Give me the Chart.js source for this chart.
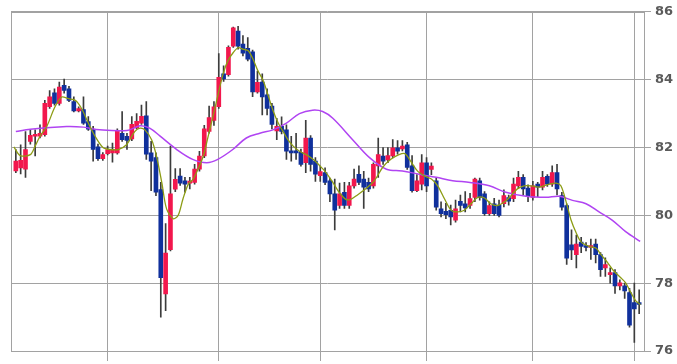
<!DOCTYPE html>
<html>
<head>
<meta charset="utf-8">
<script src="https://cdn.jsdelivr.net/npm/chart.js@4.4.1/dist/chart.umd.min.js"></script>
<style>
    html, body { margin: 0; padding: 0; background: #ffffff; }
</style>
</head>
<body>
<canvas id="priceChart" width="677" height="364"></canvas>
<script>
const upColor = '#f2174d';
const downColor = '#10309c';
const wickColor = '#3c3c3c';
const gridColor = '#a2a2a2';

// daily candles, left to right
const opens = [
    81.31, 81.40, 81.36, 82.18, 82.33, 82.33, 82.38, 83.20, 83.61, 83.30,
    83.83, 83.73, 83.35, 83.08, 83.12, 82.76, 82.52, 82.02, 81.67, 81.82,
    81.84, 81.84, 82.42, 82.33, 82.25, 82.58, 82.72, 82.93, 81.84, 81.70,
    80.76, 77.68, 78.99, 80.77, 81.16, 81.02, 80.95, 80.97, 81.36, 81.75,
    82.47, 82.80, 83.20, 84.17, 84.15, 84.99, 85.43, 85.05, 84.92, 84.82,
    83.64, 83.93, 83.55, 83.22, 82.49, 82.62, 82.52, 81.90, 81.88, 81.86,
    81.55, 82.28, 81.60, 81.17, 81.26, 81.02, 80.63, 80.29, 80.68, 80.29,
    80.87, 81.21, 81.07, 80.97, 80.87, 81.46, 81.75, 81.63, 81.75, 81.99,
    81.96, 82.08, 81.46, 80.73, 80.92, 81.55, 81.35, 81.02, 80.19, 80.12,
    80.15, 79.86, 80.41, 80.34, 80.29, 80.53, 81.02, 80.63, 80.05, 80.34,
    80.30, 80.34, 80.52, 80.49, 80.87, 81.12, 80.80, 80.53, 80.92, 80.83,
    81.15, 80.92, 81.26, 80.58, 80.29, 79.13, 78.84, 79.21, 79.10, 79.05,
    79.15, 78.84, 78.45, 78.25, 78.31, 77.92, 77.92, 77.72, 77.43, 77.43
];
const highs = [
    81.94, 82.08, 82.47, 82.52, 82.52, 82.67, 83.39, 83.68, 83.73, 83.93,
    84.02, 83.80, 83.49, 83.20, 83.49, 82.91, 82.62, 82.10, 81.85, 82.04,
    82.13, 82.55, 83.06, 82.42, 82.91, 83.00, 83.25, 83.35, 82.18, 81.84,
    80.97, 79.76, 82.04, 81.38, 81.38, 81.12, 81.12, 81.50, 81.89, 82.65,
    83.22, 83.35, 84.77, 84.41, 85.00, 85.55, 85.57, 85.30, 85.24, 84.87,
    84.25, 84.17, 83.73, 83.30, 82.86, 82.90, 82.67, 82.33, 82.42, 81.95,
    82.80, 82.35, 81.70, 81.45, 81.40, 81.10, 81.07, 80.95, 80.97, 80.97,
    81.36, 81.46, 81.30, 81.10, 81.55, 82.28, 82.00, 82.00, 82.23, 82.20,
    82.20, 82.15, 81.76, 81.20, 81.79, 81.70, 81.55, 81.10, 80.40, 80.35,
    80.30, 80.45, 80.60, 80.70, 80.65, 81.10, 81.10, 80.70, 80.40, 80.50,
    80.45, 80.75, 80.60, 81.10, 81.30, 81.20, 80.90, 81.00, 80.97, 81.30,
    81.20, 81.46, 81.50, 80.68, 80.34, 79.57, 79.42, 79.35, 79.20, 79.30,
    79.30, 78.90, 78.75, 78.45, 78.40, 78.10, 78.00, 77.85, 78.00, 77.80
];
const lows = [
    81.26, 81.22, 81.12, 82.10, 81.75, 82.28, 82.33, 83.15, 83.25, 83.25,
    83.60, 83.35, 83.05, 83.05, 82.68, 82.50, 81.60, 81.62, 81.62, 81.78,
    81.57, 81.80, 82.18, 81.94, 82.20, 82.55, 82.68, 81.65, 80.73, 80.58,
    77.00, 77.19, 78.95, 80.70, 80.88, 80.68, 80.78, 80.92, 81.30, 81.70,
    82.42, 82.65, 83.15, 83.95, 84.10, 84.95, 84.90, 84.70, 84.55, 83.50,
    83.60, 82.96, 82.96, 82.55, 82.23, 82.40, 81.65, 81.60, 81.65, 81.45,
    81.26, 81.30, 81.00, 81.00, 80.90, 80.40, 79.57, 80.20, 80.20, 80.20,
    80.80, 80.90, 80.20, 80.70, 80.80, 81.12, 81.50, 81.55, 81.70, 81.80,
    81.90, 81.35, 80.68, 80.70, 80.75, 80.70, 81.20, 80.15, 79.95, 79.90,
    79.72, 79.80, 80.10, 80.10, 80.20, 80.40, 80.45, 80.00, 80.00, 80.00,
    79.95, 80.25, 80.30, 80.40, 80.80, 80.60, 80.40, 80.45, 80.55, 80.75,
    80.85, 80.85, 80.60, 80.15, 78.55, 78.69, 78.45, 78.90, 78.95, 78.70,
    78.60, 78.20, 78.20, 78.00, 77.70, 77.80, 77.55, 76.70, 76.25, 77.10
];
const closes = [
    81.60, 81.62, 81.94, 82.36, 82.38, 82.42, 83.30, 83.49, 83.30, 83.78,
    83.68, 83.39, 83.08, 83.15, 82.72, 82.54, 81.94, 81.67, 81.79, 81.94,
    81.94, 82.49, 82.23, 82.21, 82.68, 82.77, 82.92, 81.80, 81.60, 80.68,
    78.16, 78.89, 80.63, 81.06, 80.95, 80.92, 81.00, 81.36, 81.75, 82.55,
    82.88, 83.20, 84.07, 84.02, 84.95, 85.53, 84.99, 84.78, 84.60, 83.64,
    83.92, 83.49, 83.15, 82.68, 82.62, 82.47, 81.89, 81.84, 81.84, 81.50,
    82.28, 81.50, 81.21, 81.29, 80.97, 80.63, 80.15, 80.63, 80.29, 80.87,
    81.07, 80.97, 80.83, 80.78, 81.50, 81.79, 81.60, 81.76, 81.99, 81.89,
    82.04, 81.41, 80.73, 81.02, 81.55, 80.87, 81.45, 80.24, 80.05, 80.02,
    79.95, 80.19, 80.29, 80.22, 80.49, 81.07, 80.53, 80.05, 80.29, 80.05,
    80.00, 80.58, 80.42, 80.92, 81.12, 80.78, 80.55, 80.87, 80.83, 81.12,
    80.92, 81.26, 80.78, 80.24, 78.74, 78.98, 79.15, 79.08, 79.05, 79.10,
    78.84, 78.40, 78.55, 78.30, 77.92, 78.01, 77.77, 76.76, 77.24, 77.37
];

// candles that carry the vertical grid lines (month starts)
const monthStarts = [19, 42, 63, 85, 107, 128];
const yTicks = [76, 78, 80, 82, 84, 86];

// short moving average (candle position, value)
const shortMaAt = [
    -0.4, 0.9, 3.0, 4.0, 5.0, 6.4, 8.1, 9.5, 10.9, 12.3,
    13.6, 15.0, 16.4, 18.1, 19.5, 21.2, 22.9, 24.6, 25.7, 26.7,
    28.1, 29.1, 30.2, 31.2, 32.6, 33.6, 34.6, 35.7, 36.7, 37.7,
    38.8, 39.8, 40.8, 41.9, 42.9, 43.9, 45.0, 46.0, 47.0, 48.1,
    49.1, 50.1, 51.2, 52.2, 53.2, 54.3, 55.3, 56.3, 57.4, 58.7,
    60.1, 61.5, 62.9, 64.2, 65.6, 66.9, 68.3, 69.3, 70.7, 72.4,
    74.2, 75.9, 77.6, 79.3, 80.5, 81.7, 83.1, 84.5, 86.0, 87.3,
    88.7, 90.1, 91.5, 92.8, 94.2, 95.6, 97.0, 98.3, 99.7, 101.1,
    102.5, 103.8, 105.2, 106.6, 108.3, 110.4, 111.8, 112.8, 113.9, 114.9,
    116.0, 117.0, 118.7, 120.1, 121.1, 122.5, 123.8, 125.2, 126.2, 127.3,
    128.3, 129.3
];
const shortMa = [
    82.02, 81.76, 81.79, 82.04, 82.33, 82.62, 83.20, 83.49, 83.44, 83.39,
    83.15, 82.72, 82.33, 81.99, 81.94, 81.94, 82.08, 82.47, 82.57, 82.52,
    82.23, 81.75, 80.97, 80.19, 79.90, 80.00, 80.49, 80.92, 81.07, 81.36,
    81.75, 82.33, 82.91, 83.59, 84.17, 84.56, 84.80, 84.94, 84.90, 84.85,
    84.60, 84.26, 83.97, 83.54, 83.10, 82.72, 82.47, 82.23, 82.04, 81.89,
    81.79, 81.65, 81.46, 81.26, 80.97, 80.68, 80.47, 80.47, 80.60, 80.78,
    81.02, 81.41, 81.65, 81.79, 81.82, 81.60, 81.31, 81.17, 81.07, 80.87,
    80.49, 80.15, 80.10, 80.15, 80.34, 80.53, 80.51, 80.34, 80.29, 80.39,
    80.58, 80.78, 80.87, 80.87, 80.83, 80.92, 80.95, 80.87, 80.39, 79.86,
    79.47, 79.21, 79.08, 79.03, 78.84, 78.60, 78.35, 78.16, 78.01, 77.72,
    77.48, 77.37
];

// long moving average
const longMaAt = [
    0, 3, 10.5, 14, 17.4, 23, 25.7, 27.7, 29.8, 33.3,
    36.6, 39.5, 41.8, 44.9, 47.7, 50.5, 53.2, 56, 58.7, 61.4,
    63.5, 65.6, 69.7, 73.2, 76.7, 80, 83.5, 87, 90.4, 94,
    98, 101.4, 105.6, 109.7, 112.5, 115.2, 118, 120.7, 123.4, 126.2,
    129.2
];
const longMa = [
    82.47, 82.54, 82.62, 82.60, 82.52, 82.50, 82.64, 82.57, 82.34, 81.94,
    81.65, 81.55, 81.65, 81.94, 82.28, 82.42, 82.52, 82.72, 83.00, 83.10,
    83.06, 82.86, 82.23, 81.70, 81.36, 81.31, 81.21, 81.12, 81.02, 80.97,
    80.87, 80.68, 80.56, 80.53, 80.56, 80.44, 80.34, 80.10, 79.86, 79.52,
    79.23
];

// draws the plot frame under the candles
const framePlugin = {
    id: 'frame',
    beforeDatasetsDraw(chart) {
        const { ctx, chartArea } = chart;
        ctx.save();
        ctx.strokeStyle = gridColor;
        ctx.lineWidth = 1;
        ctx.strokeRect(Math.round(chartArea.left) + 0.5, Math.round(chartArea.top) + 0.5,
            Math.round(chartArea.right - chartArea.left), Math.round(chartArea.bottom - chartArea.top));
        ctx.restore();
    }
};

function createChart(canvasElement) {
    const bodies = opens.map((o, i) => ({ x: i, y: [o, closes[i]] }));
    const wicks = highs.map((h, i) => ({ x: i, y: [lows[i], h] }));
    const candleColors = opens.map((o, i) => closes[i] >= o ? upColor : downColor);

    new Chart(canvasElement, {
        type: 'bar',
        data: {
            datasets: [
                {
                    type: 'line',
                    data: shortMaAt.map((x, i) => ({ x: x, y: shortMa[i] })),
                    borderColor: '#8c9c14',
                    borderWidth: 1.3,
                    pointRadius: 0,
                    tension: 0.3,
                    order: 0
                },
                {
                    type: 'line',
                    data: longMaAt.map((x, i) => ({ x: x, y: longMa[i] })),
                    borderColor: '#b044f2',
                    borderWidth: 1.5,
                    pointRadius: 0,
                    tension: 0.35,
                    order: 1
                },
                {
                    data: bodies,
                    backgroundColor: candleColors,
                    barThickness: 4,
                    minBarLength: 2,
                    grouped: false,
                    order: 2
                },
                {
                    data: wicks,
                    backgroundColor: wickColor,
                    barThickness: 1,
                    grouped: false,
                    order: 3
                }
            ]
        },
        options: {
            responsive: false,
            animation: false,
            layout: { padding: { top: 7, left: 11, right: 0, bottom: 0 } },
            scales: {
                x: {
                    type: 'linear',
                    min: -1,
                    max: 130,
                    offset: false,
                    afterBuildTicks: scale => { scale.ticks = monthStarts.map(v => ({ value: v })); },
                    afterFit: scale => { scale.height = 13; },
                    ticks: { display: false },
                    grid: { color: gridColor, lineWidth: 1, tickLength: 10, offset: false },
                    border: { display: false }
                },
                y: {
                    position: 'right',
                    min: 76,
                    max: 86,
                    afterBuildTicks: scale => { scale.ticks = yTicks.map(v => ({ value: v })); },
                    afterFit: scale => { scale.width = 33; },
                    ticks: {
                        color: '#5a5a5a',
                        padding: 4,
                        font: { family: 'DejaVu Sans', size: 13, weight: 'bold' }
                    },
                    grid: { color: gridColor, lineWidth: 1, tickLength: 7 },
                    border: { display: false }
                }
            },
            plugins: {
                legend: { display: false },
                tooltip: { enabled: false }
            }
        },
        plugins: [framePlugin]
    });
}

createChart(document.getElementById('priceChart'));
</script>
</body>
</html>
